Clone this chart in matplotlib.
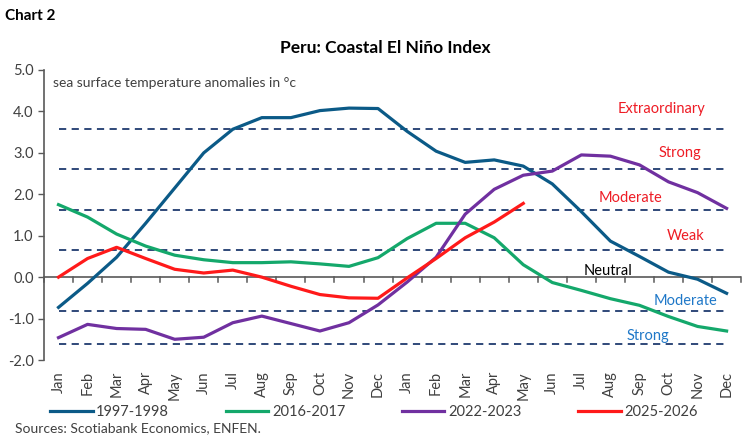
import matplotlib.pyplot as plt
from matplotlib.lines import Line2D

plt.rcParams['font.family'] = ['Lato', 'DejaVu Sans']

months = ["Jan", "Feb", "Mar", "Apr", "May", "Jun", "Jul", "Aug", "Sep", "Oct", "Nov", "Dec"] * 2

s_1997 = [-0.73, -0.15, 0.48, 1.3, 2.15, 3.0, 3.57, 3.85, 3.85, 4.02, 4.08, 4.07,
          3.52, 3.04, 2.77, 2.83, 2.68, 2.25, 1.58, 0.87, 0.5, 0.12, -0.05, -0.39]
s_2016 = [1.75, 1.45, 1.04, 0.75, 0.53, 0.42, 0.35, 0.35, 0.37, 0.32, 0.26, 0.47,
          0.93, 1.3, 1.3, 0.95, 0.3, -0.13, -0.32, -0.52, -0.68, -0.95, -1.19, -1.3]
s_2022 = [-1.46, -1.14, -1.24, -1.26, -1.5, -1.45, -1.1, -0.94, -1.12, -1.3, -1.1, -0.67,
          -0.12, 0.48, 1.52, 2.12, 2.46, 2.56, 2.95, 2.92, 2.71, 2.3, 2.04, 1.66]
s_2025 = [0.0, 0.45, 0.72, 0.45, 0.19, 0.1, 0.17, 0.0, -0.22, -0.42, -0.5, -0.51,
          -0.02, 0.45, 0.95, 1.33, 1.78]

thresholds = [3.57, 2.62, 1.62, 0.65, -0.82, -1.62]
band_labels = ["Extraordinary", "Strong", "Moderate", "Weak", "Neutral", "Moderate", "Strong"]
band_pos = [(20.75, 4.05), (21.4, 3.0), (19.7, 1.9), (21.6, 1.0), (18.9, 0.15), (21.6, -0.58), (20.3, -1.42)]
band_colors = ["#ee1c25"] * 4 + ["#000000"] + ["#1f78c8"] * 2

fig = plt.figure(figsize=(7.48, 4.45), dpi=100)
ax = fig.add_axes([0.0588, 0.191, 0.932, 0.6517])

x = list(range(24))
for t in thresholds:
    ax.plot([0, 23], [t, t], color="#1f3a6e", lw=1.3, ls=(0, (4, 3)), zorder=2)

ax.axhline(0, color="#595959", lw=1.2, zorder=1)
ax.plot(x, s_1997, color="#0b5a87", lw=2.3, zorder=3)
ax.plot(x, s_2016, color="#14a86b", lw=2.3, zorder=3)
ax.plot(x, s_2022, color="#7030a0", lw=2.3, zorder=3)
ax.plot(x[:len(s_2025)], s_2025, color="#ff1a1a", lw=2.3, zorder=4)

for lab, (px, py), c in zip(band_labels, band_pos, band_colors):
    ax.text(px, py, lab, color=c, fontsize=10.5, ha="center", va="center", zorder=5)

ax.set_xlim(-0.5, 23.5)
ax.set_ylim(-2.0, 5.0)
ax.set_yticks([-2, -1, 0, 1, 2, 3, 4, 5])
ax.set_yticklabels(["%.1f" % v for v in [-2, -1, 0, 1, 2, 3, 4, 5]], fontsize=10.5, color="#404040")
ax.set_xticks(x)
ax.set_xticklabels(months, rotation=90, fontsize=10.5, color="#404040")
ax.tick_params(axis="x", length=0, pad=8)
ax.tick_params(axis="y", length=4, color="#595959", width=1)
# tick marks on the zero line between months
for k in range(25):
    ax.plot([k - 0.5, k - 0.5], [0, -0.12], color="#595959", lw=1.1, zorder=1, clip_on=False)

for s in ["top", "right", "bottom"]:
    ax.spines[s].set_visible(False)
ax.spines["left"].set_color("#595959")
ax.spines["left"].set_linewidth(1.2)

ax.text(0.013, 0.955, "sea surface temperature anomalies in \u00b0c", transform=ax.transAxes,
        fontsize=10, color="#404040", va="center")

fig.text(0.007, 0.965, "Chart 2", fontsize=11, fontweight="bold", va="center")
fig.text(0.515, 0.892, "Peru: Coastal El Ni\u00f1o Index", fontsize=12.5, fontweight="bold",
         ha="center", va="center")

handles = [Line2D([], [], color="#0b5a87", lw=2.3),
           Line2D([], [], color="#14a86b", lw=2.3),
           Line2D([], [], color="#7030a0", lw=2.3),
           Line2D([], [], color="#ff1a1a", lw=2.3)]
fig.legend(handles, ["1997-1998", "2016-2017", "2022-2023", "2025-2026"], loc="center",
           bbox_to_anchor=(0.5, 0.074), ncol=4, frameon=False, fontsize=10.5,
           handlelength=2.9, columnspacing=3.9, handletextpad=0.25, labelcolor="#404040")
fig.text(0.02, 0.038, "Sources: Scotiabank Economics, ENFEN.", fontsize=10, color="#404040", va="center")

fig.savefig("out.png", dpi=100)
